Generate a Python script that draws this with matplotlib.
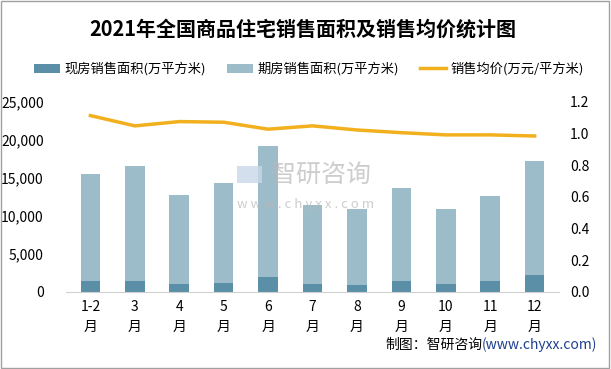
import numpy as np
import matplotlib
matplotlib.use('Agg')
import matplotlib.pyplot as plt
from matplotlib.patches import Rectangle

plt.rcParams['font.family'] = ['Noto Sans CJK SC', 'DejaVu Sans']

# 数据
months = ['1-2\n月', '3\n月', '4\n月', '5\n月', '6\n月', '7\n月',
          '8\n月', '9\n月', '10\n月', '11\n月', '12\n月']
xianfang = [1450, 1450, 1050, 1230, 1970, 1050, 920, 1450, 1050, 1450, 2240]
total = [15530, 16580, 12760, 14340, 19210, 11450, 10920, 13680, 10920, 12630, 17240]
qifang = [t - x for t, x in zip(total, xianfang)]
price = [1.114, 1.049, 1.076, 1.072, 1.028, 1.049, 1.023, 1.006, 0.992, 0.992, 0.985]

c_dark = '#5B8FA7'
c_light = '#9DBCCA'
c_line = '#F2B01E'

fig = plt.figure(figsize=(6.11, 3.69), dpi=100)
fig.patches.append(Rectangle((0.002, 0.003), 0.995, 0.993, transform=fig.transFigure,
                             fill=False, edgecolor='#A0A0A0', linewidth=1))

ax = fig.add_axes([0.108, 0.2087, 0.807, 0.515])
x = np.arange(len(months))
w = 0.44
b1 = ax.bar(x, xianfang, w, color=c_dark, label='现房销售面积(万平方米)', zorder=2)
b2 = ax.bar(x, qifang, w, bottom=xianfang, color=c_light, label='期房销售面积(万平方米)', zorder=2)
ax.set_ylim(0, 25000)
ax.set_xlim(-0.55, len(months) - 0.45)
ax.set_yticks(np.arange(0, 25001, 5000))
ax.set_yticklabels([f'{v:,}' for v in range(0, 25001, 5000)])
ax.set_xticks(x)
ax.set_xticklabels(months, linespacing=1.5)
for s in ['top', 'right', 'left']:
    ax.spines[s].set_visible(False)
ax.spines['bottom'].set_color('#D0D0D0')
ax.tick_params(axis='both', length=0, labelsize=10, colors='black')
ax.tick_params(axis='y', pad=16)
ax.tick_params(axis='x', pad=6)

ax2 = ax.twinx()
l1, = ax2.plot(x, price, color=c_line, linewidth=2.5, label='销售均价(万元/平方米)', zorder=3)
ax2.set_ylim(0, 1.2)
ax2.set_yticks(np.arange(0, 1.21, 0.2))
ax2.set_yticklabels([f'{v:.1f}' for v in np.arange(0, 1.21, 0.2)])
for s in ['top', 'right', 'left', 'bottom']:
    ax2.spines[s].set_visible(False)
ax2.tick_params(axis='y', length=0, labelsize=10, pad=8)

fig.text(0.495, 0.922, '2021年全国商品住宅销售面积及销售均价统计图',
         ha='center', va='center', fontsize=14.4, fontweight='bold')

fig.legend(handles=[b1, b2, l1], loc='center', bbox_to_anchor=(0.505, 0.813),
           ncol=3, frameon=False, fontsize=9.5, columnspacing=1.6,
           handlelength=2.0, handletextpad=0.3)

# 水印
wm = dict(color='#B8B8B8', alpha=0.7)
fig.patches.append(Rectangle((0.388, 0.505), 0.04, 0.045, transform=fig.transFigure,
                             facecolor='#C8D8E8', edgecolor='none', alpha=0.8))
fig.text(0.526, 0.526, '智研咨询', ha='center', va='center', fontsize=18, **wm)
fig.text(0.5, 0.445, 'w w w . c h y x x . c o m', ha='center', va='center',
         fontsize=9.5, **wm)

# 来源
src = fig.text(0.978, 0.065, '(www.chyxx.com)', ha='right', va='center',
               fontsize=10, color='#1F3F8F')
fig.canvas.draw()
bb = src.get_window_extent()
fig.text(bb.x0 / fig.bbox.width, 0.065, '制图：智研咨询', ha='right', va='center',
         fontsize=10, color='black')

fig.savefig('out.png', dpi=100)
